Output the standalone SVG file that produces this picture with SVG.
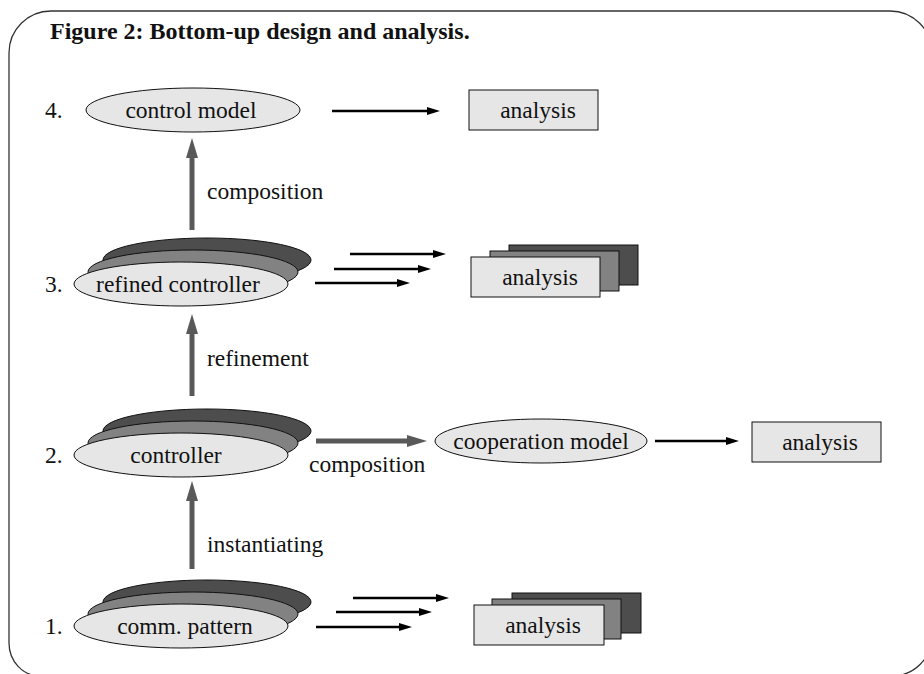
<svg xmlns="http://www.w3.org/2000/svg" width="924" height="674" viewBox="0 0 924 674">
<defs>
<style>
text{font-family:"Liberation Serif","Times New Roman",serif;font-size:23.5px;fill:#111}
.title{font-weight:bold;font-size:24px}
.mid{text-anchor:middle}
.lt{fill:#e6e6e6;stroke:#111;stroke-width:1}
.md{fill:#828282;stroke:#111;stroke-width:1}
.dk{fill:#4d4d4d;stroke:#111;stroke-width:1}
.blk{stroke:#000;stroke-width:2.6;fill:none}
.gry{stroke:#595959;stroke-width:5;fill:none}
.frame{fill:none;stroke:#333;stroke-width:1.3}
</style>
<marker id="ab" markerUnits="userSpaceOnUse" markerWidth="13" markerHeight="8" refX="5" refY="4" orient="auto">
<path d="M0,0 L13,4 L0,8 Z" fill="#000"/>
</marker>
<marker id="ag" markerUnits="userSpaceOnUse" markerWidth="20" markerHeight="12" refX="4" refY="6" orient="auto">
<path d="M0,0 L20,6 L0,12 Z" fill="#595959"/>
</marker>
</defs>

<path class="frame" d="M9,53 A42 42 0 0 1 51,11 L890,11 A42 42 0 0 1 932,53 L932,636 A40 40 0 0 1 892,676 L40,676 A31 33 0 0 1 9,643 Z"/>
<text class="title" x="50" y="39">Figure 2: Bottom-up design and analysis.</text>

<g id="labels">
<text x="45" y="118">4.</text>
<text x="45" y="292">3.</text>
<text x="45" y="463">2.</text>
<text x="45" y="634">1.</text>
</g>

<g id="control-model">
<ellipse class="lt" cx="193" cy="110" rx="107" ry="22"/>
<text class="mid" x="191" y="118">control model</text>
</g>

<g id="analysis-4">
<rect class="lt" x="469" y="90" width="129" height="40"/>
<text class="mid" x="538" y="118">analysis</text>
</g>

<g id="refined-controller">
<ellipse class="dk" cx="207" cy="260" rx="104" ry="22"/>
<ellipse class="md" cx="193" cy="272" rx="105" ry="22"/>
<ellipse class="lt" cx="181" cy="284" rx="107" ry="22"/>
<text class="mid" x="178" y="292">refined controller</text>
</g>

<g id="analysis-3">
<rect class="dk" x="509" y="245" width="129" height="40"/>
<rect class="md" x="490" y="251" width="129" height="40"/>
<rect class="lt" x="471" y="257" width="129" height="40"/>
<text class="mid" x="540" y="285">analysis</text>
</g>

<g id="controller">
<ellipse class="dk" cx="207" cy="431" rx="104" ry="22"/>
<ellipse class="md" cx="193" cy="443" rx="105" ry="22"/>
<ellipse class="lt" cx="181" cy="455" rx="107" ry="22"/>
<text class="mid" x="176" y="463">controller</text>
</g>

<g id="cooperation-model">
<ellipse class="lt" cx="541" cy="441" rx="106" ry="22"/>
<text class="mid" x="541" y="449">cooperation model</text>
</g>

<g id="analysis-2">
<rect class="lt" x="752" y="422" width="129" height="40"/>
<text class="mid" x="820" y="450">analysis</text>
</g>

<g id="comm-pattern">
<ellipse class="dk" cx="207" cy="602" rx="104" ry="22"/>
<ellipse class="md" cx="193" cy="614" rx="105" ry="22"/>
<ellipse class="lt" cx="181" cy="626" rx="107" ry="22"/>
<text class="mid" x="185" y="634">comm. pattern</text>
</g>

<g id="analysis-1">
<rect class="dk" x="512" y="593" width="129" height="40"/>
<rect class="md" x="492" y="599" width="129" height="40"/>
<rect class="lt" x="474" y="605" width="130" height="40"/>
<text class="mid" x="543" y="633">analysis</text>
</g>

<g id="connectors">
<line class="blk" x1="332" y1="111" x2="432" y2="111" marker-end="url(#ab)"/>
<line class="gry" x1="192" y1="230" x2="192" y2="154" marker-end="url(#ag)"/>
<text x="207" y="199">composition</text>

<line class="blk" x1="350" y1="254" x2="438" y2="254" marker-end="url(#ab)"/>
<line class="blk" x1="334" y1="269" x2="423" y2="269" marker-end="url(#ab)"/>
<line class="blk" x1="315" y1="283" x2="402" y2="283" marker-end="url(#ab)"/>

<line class="gry" x1="192" y1="396" x2="192" y2="330" marker-end="url(#ag)"/>
<text x="207" y="366">refinement</text>

<line class="gry" x1="316" y1="441" x2="411" y2="441" marker-end="url(#ag)"/>
<text x="309" y="472">composition</text>
<line class="blk" x1="655" y1="441" x2="731" y2="441" marker-end="url(#ab)"/>

<line class="gry" x1="192" y1="569" x2="192" y2="497" marker-end="url(#ag)"/>
<text x="207" y="552">instantiating</text>

<line class="blk" x1="353" y1="598" x2="441" y2="598" marker-end="url(#ab)"/>
<line class="blk" x1="336" y1="612" x2="424" y2="612" marker-end="url(#ab)"/>
<line class="blk" x1="316" y1="627" x2="404" y2="627" marker-end="url(#ab)"/>
</g>
</svg>
